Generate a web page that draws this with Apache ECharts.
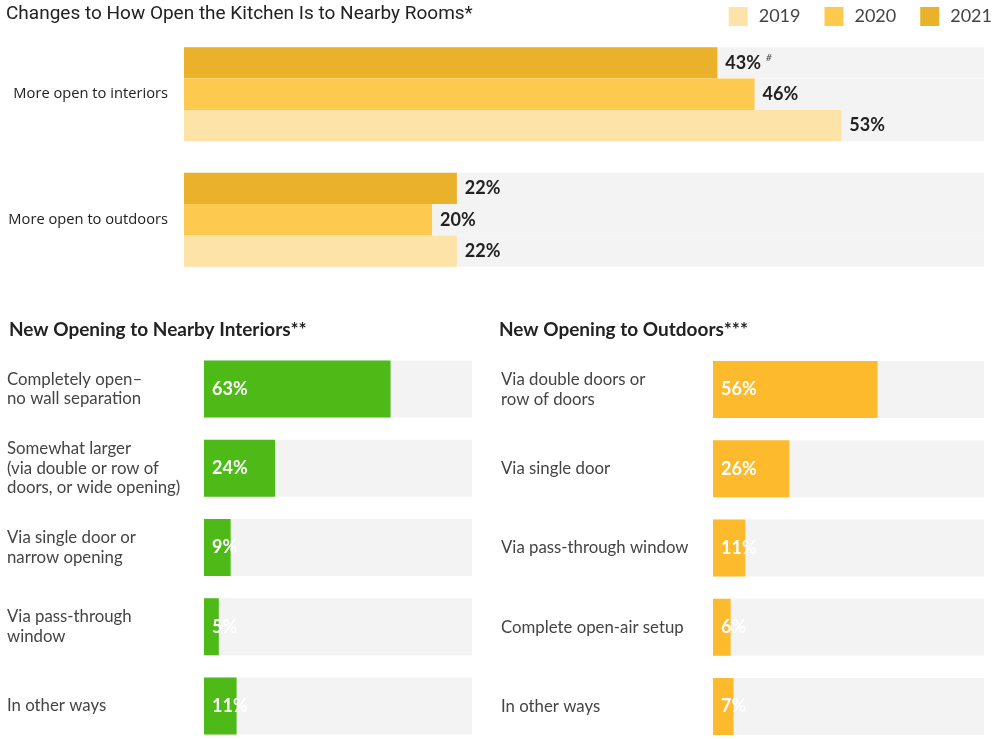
<!DOCTYPE html>
<html>
<head>
<meta charset="utf-8">
<script src="https://cdn.jsdelivr.net/npm/echarts@6/dist/echarts.min.js"></script>
<style>
html,body{margin:0;padding:0;background:#fff;}
#chart{width:1000px;height:739px;}
</style>
</head>
<body>
<div id="chart"></div>
<script>
// ---- Data ----
const topCategories = ['More open to interiors', 'More open to outdoors'];
const years = ['2019', '2020', '2021'];
const values2019 = [53, 22];
const values2020 = [46, 20];
const values2021 = [43, 22];
const notes2021 = ['#', ''];

const interiorCategories = [
  'Completely open–\nno wall separation',
  'Somewhat larger\n(via double or row of\ndoors, or wide opening)',
  'Via single door or\nnarrow opening',
  'Via pass-through\nwindow',
  'In other ways'
];
const interiorValues = [63, 24, 9, 5, 11];

const outdoorCategories = [
  'Via double doors or\nrow of doors',
  'Via single door',
  'Via pass-through window',
  'Complete open-air setup',
  'In other ways'
];
const outdoorValues = [56, 26, 11, 6, 7];

// ---- Styles ----
const yearColors = { '2019': '#FDE3A7', '2020': '#FDC94F', '2021': '#EAB12A' };
const bgColor = '#F3F3F3';
const green = '#4DBA18';
const orange = '#FDBA2D';

const chart = echarts.init(document.getElementById('chart'));

function topSeries(name, data, notes) {
  return {
    name: name,
    type: 'bar',
    xAxisIndex: 0, yAxisIndex: 0,
    data: data,
    barWidth: 31.3,
    barGap: '0%',
    itemStyle: { color: yearColors[name] },
    showBackground: true,
    backgroundStyle: { color: bgColor },
    label: {
      show: true,
      position: 'right',
      distance: 8,
      fontFamily: 'Lato',
      fontWeight: 'bold',
      fontSize: 18,
      color: '#222',
      formatter: function (p) {
        const n = notes ? notes[p.dataIndex] : '';
        return p.value + '%' + (n ? '{s|' + n + '}' : '');
      },
      rich: {
        s: { fontSize: 10, fontStyle: 'italic', fontWeight: 'normal', color: '#444', verticalAlign: 'top', padding: [0, 0, 10, 5] }
      }
    },
    emphasis: { disabled: true }
  };
}

function bottomSeries(idx, data, color) {
  return {
    type: 'bar',
    xAxisIndex: idx, yAxisIndex: idx,
    data: data,
    barWidth: 57,
    clip: false,
    itemStyle: { color: color },
    showBackground: true,
    backgroundStyle: { color: bgColor },
    label: {
      show: true,
      position: 'insideLeft',
      distance: 8,
      fontFamily: 'Lato',
      fontWeight: 'bold',
      fontSize: 18,
      color: '#fff',
      formatter: '{c}%'
    },
    emphasis: { disabled: true }
  };
}

const option = {
  backgroundColor: '#fff',
  animation: false,
  title: [
    { text: 'Changes to How Open the Kitchen Is to Nearby Rooms*', left: 1, top: 0,
      textStyle: { fontFamily: 'Roboto', fontSize: 19, fontWeight: 'normal', color: '#222' } },
    { text: 'New Opening to Nearby Interiors**', left: 4, top: 315,
      textStyle: { fontFamily: 'Lato', fontSize: 19, fontWeight: 'bold', color: '#222' } },
    { text: 'New Opening to Outdoors***', left: 494, top: 315,
      textStyle: { fontFamily: 'Lato', fontSize: 19, fontWeight: 'bold', color: '#222' } }
  ],
  legend: {
    data: years,
    right: 3,
    top: 2,
    itemWidth: 19,
    itemHeight: 19,
    itemGap: 24,
    icon: 'rect',
    textStyle: { fontFamily: 'Lato', fontSize: 18, color: '#444', padding: [0, 0, 0, 6] },
    selectedMode: false
  },
  grid: [
    { left: 184, top: 31.5, width: 800, height: 251 },
    { left: 204, top: 389, width: 268, height: 317 },
    { left: 713, top: 389.5, width: 271, height: 317 }
  ],
  xAxis: [
    { type: 'value', gridIndex: 0, min: 0, max: 64.5, show: false },
    { type: 'value', gridIndex: 1, min: 0, max: 90.5, show: false },
    { type: 'value', gridIndex: 2, min: 0, max: 92.2, show: false }
  ],
  yAxis: [
    { type: 'category', gridIndex: 0, data: topCategories, inverse: true,
      axisLine: { show: false }, axisTick: { show: false }, splitLine: { show: false },
      axisLabel: { margin: 16, fontFamily: 'Open Sans', fontSize: 14.7, color: '#222' } },
    { type: 'category', gridIndex: 1, data: interiorCategories, inverse: true, boundaryGap: false,
      axisLine: { show: false }, axisTick: { show: false }, splitLine: { show: false },
      axisLabel: { align: 'left', margin: 197, fontFamily: 'Lato', fontSize: 16.8, lineHeight: 19.5, color: '#444' } },
    { type: 'category', gridIndex: 2, data: outdoorCategories, inverse: true, boundaryGap: false,
      axisLine: { show: false }, axisTick: { show: false }, splitLine: { show: false },
      axisLabel: { align: 'left', margin: 212, fontFamily: 'Lato', fontSize: 16.8, lineHeight: 19.5, color: '#444' } }
  ],
  series: [
    topSeries('2021', values2021, notes2021),
    topSeries('2020', values2020, null),
    topSeries('2019', values2019, null),
    bottomSeries(1, interiorValues, green),
    bottomSeries(2, outdoorValues, orange)
  ]
};

chart.setOption(option);
</script>
</body>
</html>
